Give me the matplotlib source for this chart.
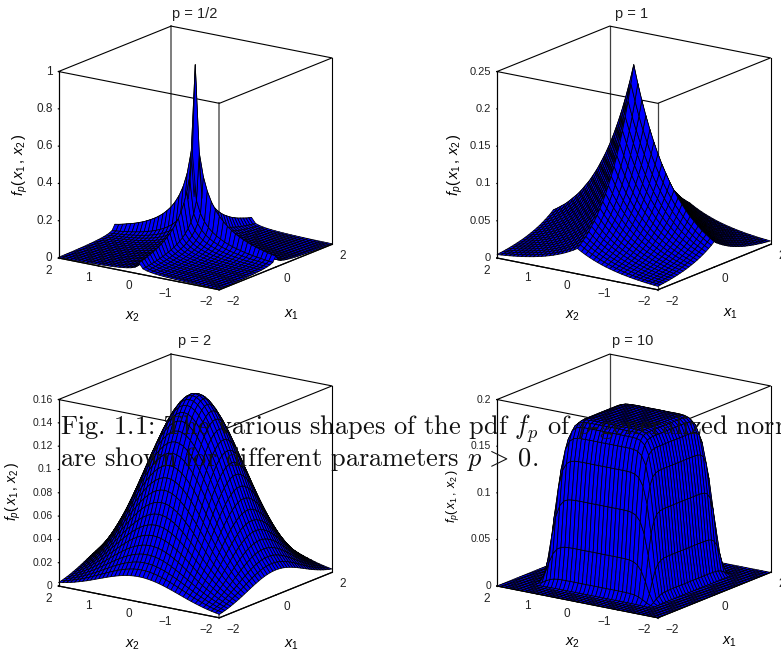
import matplotlib
matplotlib.use('Agg')
import matplotlib.pyplot as plt
import numpy as np
from mpl_toolkits.mplot3d import proj3d

plt.rcParams['font.family'] = ['Liberation Sans', 'DejaVu Sans']
plt.rcParams['mathtext.fontset'] = 'custom'
plt.rcParams['mathtext.rm'] = 'Liberation Sans'
plt.rcParams['mathtext.it'] = 'Liberation Sans:italic'

W, H = 781, 653

# half profiles f(x) read at x = 0, 0.1, ..., 2.0, the surface is f(x1) * f(x2)
perfil_05 = [1.0, .531, .409, .334, .282, .243, .212, .188, .167, .150, .135,
             .123, .112, .102, .094, .086, .080, .074, .068, .063, .059]
perfil_1 = [.500, .452, .409, .370, .335, .303, .274, .248, .225, .203, .184,
            .166, .151, .136, .123, .112, .101, .091, .083, .075, .068]
perfil_2 = [.399, .397, .391, .381, .368, .352, .333, .312, .290, .266, .242,
            .218, .194, .171, .150, .130, .111, .094, .079, .066, .054]
perfil_10 = [.4175, .4175, .4175, .4175, .4175, .4175, .4172, .4163, .413, .403, .378,
             .322, .225, .105, .023, .0013, .0001, 0, 0, 0, 0]

titulos = ['p = 1/2', 'p = 1', 'p = 2', 'p = 10']
perfiles = [perfil_05, perfil_1, perfil_2, perfil_10]
zmax = [1, 0.25, 0.16, 0.2]
zticks = [[0, 0.2, 0.4, 0.6, 0.8, 1],
          [0, 0.05, 0.1, 0.15, 0.2, 0.25],
          [0, 0.02, 0.04, 0.06, 0.08, 0.1, 0.12, 0.14, 0.16],
          [0, 0.05, 0.1, 0.15, 0.2]]
zlabels = [['0', '0.2', '0.4', '0.6', '0.8', '1'],
           ['0', '0.05', '0.1', '0.15', '0.2', '0.25'],
           ['0', '0.02', '0.04', '0.06', '0.08', '0.1', '0.12', '0.14', '0.16'],
           ['0', '0.05', '0.1', '0.15', '0.2']]
x1_ticks = [-2, 0, 2]
x1_labels = ['\u22122', '0', '2']
x2_ticks = [-2, -1, 0, 1, 2]
x2_labels = ['\u22122', '\u22121', '0', '1', '2']

# pixel places: left bottom corner of the box, title, x2 label, x1 label, z label
esquina = [(58.5, 258), (497, 258), (58.5, 586), (497, 586)]
pos_titulo = [(195, 14), (632, 14), (195, 341), (633, 341)]
pos_x2 = [(133, 317), (573, 316), (133, 645), (573, 643)]
pos_x1 = [(292, 315), (731, 314), (292, 645), (730, 642)]
pos_z = [(20, 165), (455, 165), (13, 491), (453, 496)]
tam_z = [8.5, 8, 7.5, 7.5]
tam_lab_z = [10.5, 10.5, 10, 9]
gris = ['0.45', '0.25', '0.45', '0.25']
grueso = [1.3, 0.9, 1.3, 0.9]


def texto(x, y, s, **kw):
    kw.setdefault('ha', 'center')
    return fig.text(x / W, 1 - y / H, s, va='center', **kw)


def proyectar(ax, x, y, z):
    xp, yp, _ = proj3d.proj_transform(x, y, z, ax.get_proj())
    return ax.transData.transform((xp, yp))


def colocar(ax, xpix, ypix, ancho=273.5):
    # moves the axes so that the box lands on the wanted pixels
    ax.set_position([0.1, 0.1, 300 / W, 300 / H])
    ax.apply_aspect()
    a = proyectar(ax, -2, 2, 0)
    b = proyectar(ax, 2, -2, 0)
    lado = 300 * ancho / (b[0] - a[0])
    ax.set_position([0.1, 0.1, lado / W, lado / H])
    ax.apply_aspect()
    a = proyectar(ax, -2, 2, 0)
    pos = ax.get_position()
    izq = pos.x0 * W + xpix - a[0]
    abajo = pos.y0 * H + (H - ypix) - a[1]
    ax.set_position([izq / W, abajo / H, lado / W, lado / H])
    ax.apply_aspect()


def etiqueta_eje(ax, x, y, z, s, dx, dy, **kw):
    p = proyectar(ax, x, y, z)
    texto(p[0] + dx, H - p[1] + dy, s, color='#222222', **kw)


def panel(i):
    ax = fig.add_subplot(2, 2, i + 1, projection='3d', computed_zorder=False)
    ax.set_proj_type('ortho')
    ax.view_init(elev=16.4, azim=-145)
    ax.set_box_aspect((197, 197, 195))
    ax.set_xlim(-2, 2, view_margin=0)
    ax.set_ylim(-2, 2, view_margin=0)
    ax.set_zlim(0, zmax[i], view_margin=0)
    colocar(ax, esquina[i][0], esquina[i][1])
    ax.patch.set_alpha(0)

    mitad = np.array(perfiles[i])
    f = np.concatenate([mitad[:0:-1], mitad])
    x = np.arange(-20, 21) / 10
    X1, X2 = np.meshgrid(x, x)
    Z = np.outer(f, f)

    top = zmax[i]
    # box behind the surface
    for a, b in [(2, 2), (-2, -2)]:
        ax.plot([a, a], [b, b], [0, top], color=gris[i], lw=grueso[i], zorder=1)
    ax.plot([2, 2], [-2, -2], [0, top], color='k', lw=0.8, zorder=1)
    ax.plot([-2, -2], [2, 2], [0, top], color='k', lw=0.8, zorder=1)
    ax.plot([-2, 2, 2, -2, -2], [2, 2, -2, -2, 2], [top] * 5, color='k', lw=0.8, zorder=1)

    ax.plot_surface(X1, X2, Z, rstride=1, cstride=1, color=(0, 0, 1), edgecolor='k',
                    linewidth=0.55, shade=False, zorder=2)

    # bottom front edges
    ax.plot([-2, -2, 2], [2, -2, -2], [0, 0, 0], color='k', lw=0.9, zorder=3)

    ax.grid(False)
    for eje in [ax.xaxis, ax.yaxis, ax.zaxis]:
        eje.pane.set_visible(False)
        eje.line.set_color('k')
        eje._axinfo['tick']['inward_factor'] = 0.02
        eje._axinfo['tick']['outward_factor'] = 0.0
        eje._axinfo['tick']['color'] = 'k'
    ax.set_xticks(x1_ticks)
    ax.set_yticks(x2_ticks)
    ax.set_zticks(zticks[i])
    ax.set_xticklabels([])
    ax.set_yticklabels([])
    ax.set_zticklabels([])

    for t, s in zip(x1_ticks, x1_labels):
        etiqueta_eje(ax, t, -2, 0, s, 7.5, 12, ha='left', fontsize=8.5)
    for t, s in zip(x2_ticks, x2_labels):
        etiqueta_eje(ax, -2, t, 0, s, -7, 12.5, ha='right', fontsize=8.5)
    for t, s in zip(zticks[i], zlabels[i]):
        etiqueta_eje(ax, -2, 2, t, s, -6, 0, ha='right', fontsize=tam_z[i])

    texto(*pos_titulo[i], titulos[i], fontsize=10.5, color='#222222')
    texto(*pos_x2[i], r'$x_{\mathit{2}}$', fontsize=10.5)
    texto(*pos_x1[i], r'$x_{\mathit{1}}$', fontsize=10.5)
    texto(*pos_z[i], r'$f_p(\,x_{\mathit{1}}\,,\,x_{\mathit{2}}\,)$', fontsize=tam_lab_z[i], rotation=90)


fig = plt.figure(figsize=(W / 100, H / 100), dpi=100)
for i in range(4):
    panel(i)

fig.text(60 / W, 1 - 435 / H, 'Fig. 1.1: The various shapes of the pdf $f_p$ of $p$-generalized normal',
         family='cmr10', math_fontfamily='cm', fontsize=19, color='#111111', zorder=10)
fig.text(60 / W, 1 - 466 / H, r'are shown for different parameters $p\,>\,0$.',
         family='cmr10', math_fontfamily='cm', fontsize=19, color='#111111', zorder=10)

fig.savefig('out.png', dpi=100)
